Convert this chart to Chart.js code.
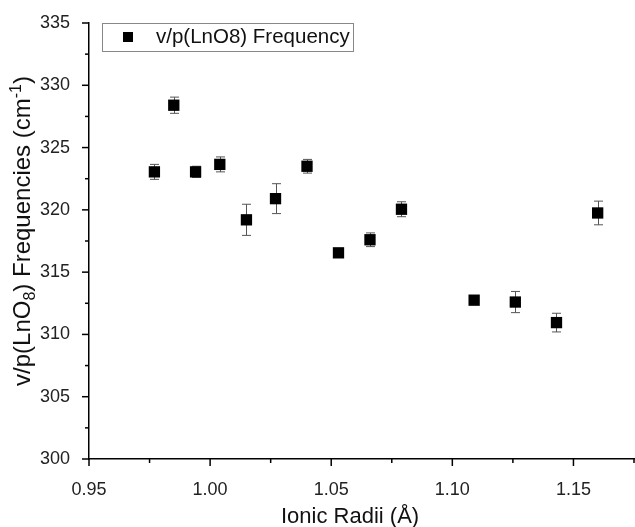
<!DOCTYPE html>
<html>
<head>
<meta charset="utf-8">
<script src="https://cdn.jsdelivr.net/npm/chart.js@4"></script>
<style>
  html, body { margin: 0; padding: 0; background: #fff; overflow: hidden; }
  #wrap { width: 635px; height: 527px; position: relative; }
  canvas { display: block; }
</style>
</head>
<body>
<div id="wrap"><canvas id="c" width="635" height="527"></canvas></div>
<script>
// ---- data ----
const radii = [0.977, 0.985, 0.994, 1.004, 1.015, 1.027, 1.040, 1.053, 1.066, 1.079, 1.109, 1.126, 1.143, 1.160];
const freqs = [323.05, 328.4, 323.05, 323.65, 319.2, 320.9, 323.5, 316.55, 317.6, 320.05, 312.75, 312.6, 310.95, 319.75];
const errs  = [0.6, 0.65, 0.45, 0.6, 1.25, 1.2, 0.55, 0.2, 0.55, 0.6, 0.2, 0.85, 0.75, 0.95];
const seriesLabel = 'v/p(LnO8) Frequency';
const xTickLabels = ['0.95', '1.00', '1.05', '1.10', '1.15'];
const yTickLabels = ['300', '305', '310', '315', '320', '325', '330', '335'];
const xTitle = 'Ionic Radii (Å)';
const yTitleParts = [['v/p(LnO', 0], ['8', -1], [') Frequencies (cm', 0], ['-1', 1], [')', 0]];

const FONT = "Arial, 'Liberation Sans', sans-serif";

function isMultiple(v, step) {
  const r = v / step;
  return Math.abs(r - Math.round(r)) < 1e-6;
}
function findLabel(list, v, dec) {
  const s = v.toFixed(dec);
  return list.indexOf(s) >= 0 ? s : '';
}

const points = radii.map((x, i) => ({ x: x, y: freqs[i] }));

const errorBarPlugin = {
  id: 'errorBars',
  beforeDatasetsDraw(chart) {
    const ctx = chart.ctx, xs = chart.scales.x, ys = chart.scales.y;
    ctx.save();
    ctx.strokeStyle = '#555';
    ctx.lineWidth = 1;
    radii.forEach((xv, i) => {
      const px = Math.round(xs.getPixelForValue(xv)) + 0.5;
      const top = ys.getPixelForValue(freqs[i] + errs[i]);
      const bot = ys.getPixelForValue(freqs[i] - errs[i]);
      ctx.beginPath();
      ctx.moveTo(px, top); ctx.lineTo(px, bot);
      ctx.moveTo(px - 4.5, top); ctx.lineTo(px + 4.5, top);
      ctx.moveTo(px - 4.5, bot); ctx.lineTo(px + 4.5, bot);
      ctx.stroke();
    });
    ctx.restore();
  }
};

const decorPlugin = {
  id: 'decor',
  afterDraw(chart) {
    const ctx = chart.ctx, xs = chart.scales.x, ys = chart.scales.y, ca = chart.chartArea;
    ctx.save();
    // tick marks
    ctx.strokeStyle = '#000';
    ctx.lineWidth = 1.5;
    xs.ticks.forEach(t => {
      const px = xs.getPixelForValue(t.value);
      const len = isMultiple(t.value, 0.05) ? 7 : 4;
      ctx.beginPath();
      ctx.moveTo(px, ca.bottom); ctx.lineTo(px, ca.bottom + len);
      ctx.stroke();
    });
    ys.ticks.forEach(t => {
      const py = ys.getPixelForValue(t.value);
      const len = isMultiple(t.value, 5) ? 7 : 4;
      ctx.beginPath();
      ctx.moveTo(ca.left, py); ctx.lineTo(ca.left - len, py);
      ctx.stroke();
    });

    // legend box
    const lx = ca.left + 13, ly = ca.top, lw = 251, lh = 28;
    ctx.strokeStyle = '#888';
    ctx.lineWidth = 1;
    ctx.strokeRect(lx + 0.5, ly + 0.5, lw, lh);
    ctx.fillStyle = '#000';
    ctx.fillRect(lx + 21, ly + 9, 10, 10);
    ctx.font = '20.5px ' + FONT;
    ctx.textBaseline = 'middle';
    ctx.textAlign = 'left';
    ctx.fillStyle = '#111';
    ctx.fillText(chart.data.datasets[0].label, lx + 54, ly + 14.5);

    // x title
    ctx.font = '22px ' + FONT;
    ctx.textAlign = 'center';
    ctx.textBaseline = 'middle';
    ctx.fillText(xTitle, ca.left + (ca.right - ca.left) * 0.479, ca.bottom + 58);

    // y title (rich text with sub/superscripts)
    const big = 24, small = 16;
    let total = 0;
    yTitleParts.forEach(([s, lvl]) => {
      ctx.font = (lvl ? small : big) + 'px ' + FONT;
      total += ctx.measureText(s).width;
    });
    ctx.translate(22, (ca.top + ca.bottom) / 2 - 10);
    ctx.rotate(-Math.PI / 2);
    ctx.textAlign = 'left';
    ctx.textBaseline = 'alphabetic';
    let cx = -total / 2;
    yTitleParts.forEach(([s, lvl]) => {
      ctx.font = (lvl ? small : big) + 'px ' + FONT;
      const dy = lvl === -1 ? 5 : (lvl === 1 ? -9 : 0);
      ctx.fillText(s, cx, 8 + dy);
      cx += ctx.measureText(s).width;
    });
    ctx.restore();
  }
};

new Chart(document.getElementById('c'), {
  type: 'scatter',
  data: {
    datasets: [{
      label: seriesLabel,
      data: points,
      pointStyle: 'rect',
      pointRadius: 8,
      pointHoverRadius: 8,
      backgroundColor: '#000',
      borderColor: '#000',
      borderWidth: 0
    }]
  },
  options: {
    responsive: false,
    animation: false,
    events: [],
    layout: { autoPadding: false, padding: { top: 23, right: 1, left: 0, bottom: 0 } },
    plugins: { legend: { display: false }, tooltip: { enabled: false } },
    scales: {
      x: {
        type: 'linear',
        min: 0.95, max: 1.175,
        grid: { display: false },
        border: { display: true, color: '#000', width: 1.5 },
        ticks: {
          stepSize: 0.025,
          autoSkip: false,
          maxRotation: 0,
          padding: 12,
          color: '#222',
          font: { size: 18, family: FONT },
          callback: v => findLabel(xTickLabels, v, 2)
        },
        afterFit: s => { s.height = 68; s.paddingLeft = 0; s.paddingRight = 0; }
      },
      y: {
        type: 'linear',
        min: 300, max: 335,
        grid: { display: false },
        border: { display: true, color: '#000', width: 1.5 },
        ticks: {
          stepSize: 2.5,
          autoSkip: false,
          padding: 11,
          color: '#222',
          font: { size: 18, family: FONT },
          callback: v => findLabel(yTickLabels, v, 0)
        },
        afterFit: s => { s.width = 89; s.paddingTop = 0; s.paddingBottom = 0; }
      }
    }
  },
  plugins: [errorBarPlugin, decorPlugin]
});
</script>
</body>
</html>
